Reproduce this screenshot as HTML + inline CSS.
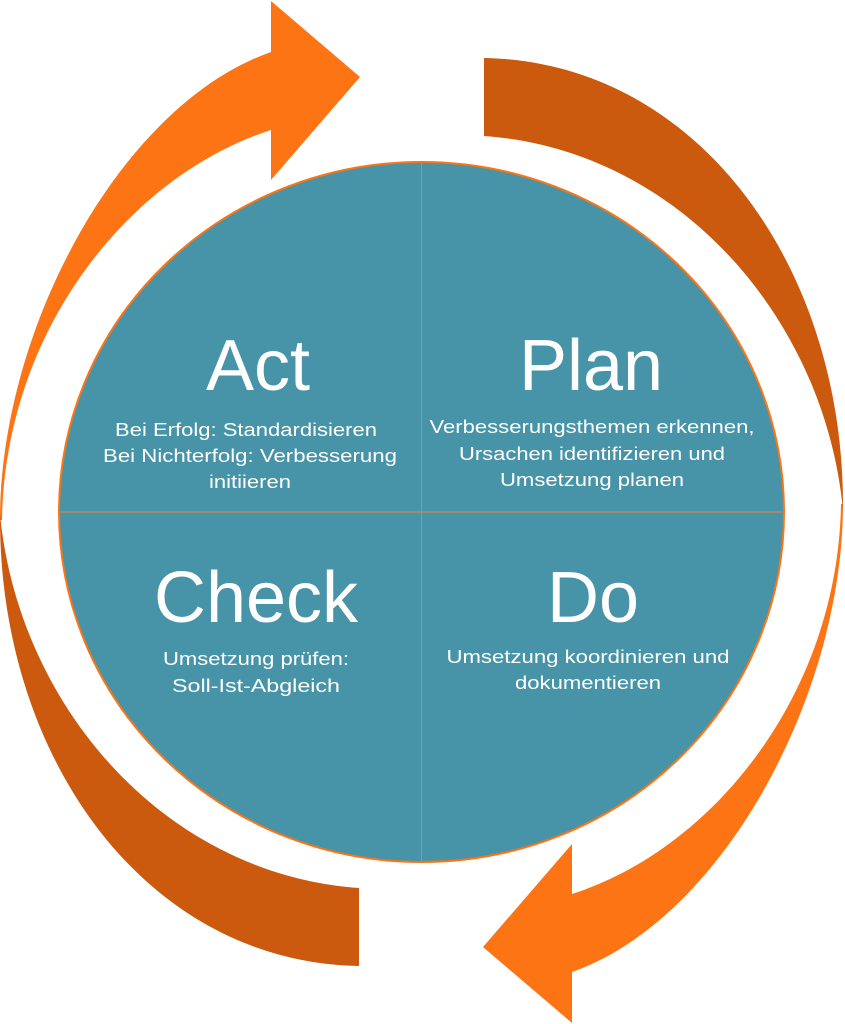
<!DOCTYPE html>
<html><head><meta charset="utf-8"><style>
html,body{margin:0;padding:0;background:#fff;}
svg{display:block;}
text{font-family:"Liberation Sans",sans-serif;fill:#fff;text-anchor:middle;}
</style></head><body>
<svg width="845" height="1024" viewBox="0 0 845 1024" xmlns="http://www.w3.org/2000/svg">
<defs>
<g id="light">
<path d="M0,520 C0,330 120,105 271,52 L271,1 L360,77 L271,180 L271,130 C130,175 5,330 2,520 Z"/>
</g>
<g id="dark">
<path d="M484,58 C700,62 845,270 843,510 C825,320 680,150 484,136 Z"/>
</g>
</defs>
<g fill="#fd7415">
<use href="#light"/>
<use href="#light" transform="rotate(180 421.5 512)"/>
</g>
<g fill="#cc5a0e">
<use href="#dark"/>
<use href="#dark" transform="rotate(180 421.5 512)"/>
</g>
<ellipse cx="421.5" cy="512" rx="362.5" ry="350" fill="#4794a8" stroke="#fd7415" stroke-width="2"/>
<line x1="421.5" y1="163" x2="421.5" y2="861" stroke="#d9834a" stroke-width="1"/>
<line x1="60" y1="512" x2="783" y2="512" stroke="#d9834a" stroke-width="1.2"/>

<text x="258" y="390" font-size="72">Act</text>
<text x="246" y="436" font-size="18" textLength="262" lengthAdjust="spacingAndGlyphs">Bei Erfolg: Standardisieren</text>
<text x="250" y="462" font-size="18" textLength="294" lengthAdjust="spacingAndGlyphs">Bei Nichterfolg: Verbesserung</text>
<text x="250" y="488" font-size="18" textLength="82" lengthAdjust="spacingAndGlyphs">initiieren</text>

<text x="591" y="390" font-size="72">Plan</text>
<text x="592" y="433" font-size="18" textLength="325" lengthAdjust="spacingAndGlyphs">Verbesserungsthemen erkennen,</text>
<text x="592" y="460" font-size="18" textLength="266" lengthAdjust="spacingAndGlyphs">Ursachen identifizieren und</text>
<text x="592" y="486" font-size="18" textLength="184" lengthAdjust="spacingAndGlyphs">Umsetzung planen</text>

<text x="256" y="622" font-size="72">Check</text>
<text x="256" y="665" font-size="18" textLength="186" lengthAdjust="spacingAndGlyphs">Umsetzung prüfen:</text>
<text x="256" y="692" font-size="18" textLength="168" lengthAdjust="spacingAndGlyphs">Soll-Ist-Abgleich</text>

<text x="593" y="622" font-size="72">Do</text>
<text x="588" y="663" font-size="18" textLength="283" lengthAdjust="spacingAndGlyphs">Umsetzung koordinieren und</text>
<text x="588" y="689" font-size="18" textLength="146" lengthAdjust="spacingAndGlyphs">dokumentieren</text>
</svg>
</body></html>
